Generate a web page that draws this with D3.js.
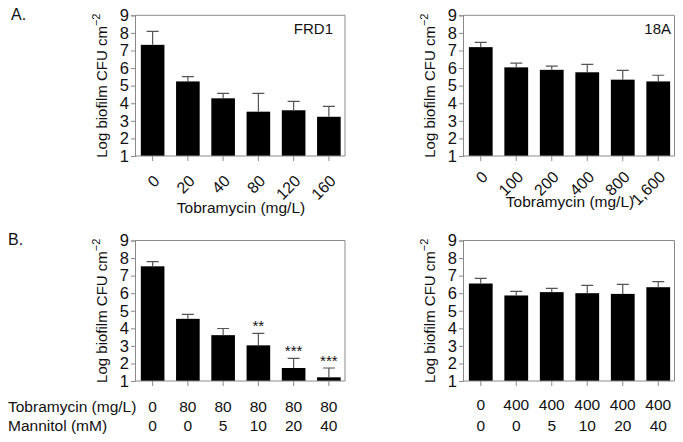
<!DOCTYPE html>
<html>
<head>
<meta charset="utf-8">
<script src="https://cdn.jsdelivr.net/npm/d3@7"></script>
<style>
  html, body { margin: 0; padding: 0; background: #fff; }
  svg { display: block; }
  text { font-family: "Liberation Sans", Arial, Helvetica, sans-serif; fill: #111; }
</style>
</head>
<body>
<svg id="chart" width="683" height="442"></svg>
<script>
// ---------- Data ----------
const yTicks = [1, 2, 3, 4, 5, 6, 7, 8, 9];

// Panel A, FRD1
const frdDoses = ["0", "20", "40", "80", "120", "160"];
const frdMeans = [7.32, 5.24, 4.28, 3.52, 3.60, 3.23];
const frdErrors = [0.77, 0.27, 0.28, 1.04, 0.51, 0.59];

// Panel A, 18A
const a18Doses = ["0", "100", "200", "400", "800", "1,600"];
const a18Means = [7.19, 6.04, 5.90, 5.76, 5.34, 5.24];
const a18Errors = [0.27, 0.24, 0.21, 0.45, 0.53, 0.35];

// Panel B, FRD1 with mannitol
const bFrdTobra = ["0", "80", "80", "80", "80", "80"];
const bFrdMannitol = ["0", "0", "5", "10", "20", "40"];
const bFrdMeans = [7.53, 4.54, 3.61, 3.03, 1.74, 1.21];
const bFrdErrors = [0.27, 0.25, 0.38, 0.68, 0.55, 0.53];
const bFrdStars = ["", "", "", "**", "***", "***"];

// Panel B, 18A with mannitol
const b18Tobra = ["0", "400", "400", "400", "400", "400"];
const b18Mannitol = ["0", "0", "5", "10", "20", "40"];
const b18Means = [6.55, 5.87, 6.06, 6.00, 5.96, 6.34];
const b18Errors = [0.29, 0.23, 0.21, 0.44, 0.54, 0.32];

// ---------- Drawing ----------
const svg = d3.select("#chart");
const gray = "#8a8a8a";
const errColor = "#555";

function panel(opts) {
  const { x0, x1, yTop, yBot, cats, means, errors } = opts;
  const g = svg.append("g");
  const keys = cats.map((d, i) => i);
  const x = d3.scaleBand().domain(keys).range([x0, x1])
    .paddingInner(0.33).paddingOuter(0.165);
  const y = d3.scaleLinear().domain([1, 9]).range([yBot, yTop]);

  // frame (top and right)
  g.append("path")
    .attr("d", `M${x0},${yTop}H${x1 - 1.5}V${yBot}`)
    .attr("fill", "none").attr("stroke", gray).attr("stroke-width", 1);

  // bars
  g.selectAll("rect.bar").data(keys).join("rect")
    .attr("class", "bar")
    .attr("x", i => x(i))
    .attr("width", x.bandwidth())
    .attr("y", i => y(means[i]))
    .attr("height", i => y(1) - y(means[i]))
    .attr("fill", "#000");

  // error bars (upper only)
  const capW = 12;
  g.selectAll("path.err").data(keys).join("path")
    .attr("class", "err")
    .attr("d", i => {
      const cx = x(i) + x.bandwidth() / 2;
      const yt = y(means[i] + errors[i]);
      return `M${cx},${y(means[i])}V${yt}M${cx - capW / 2},${yt}H${cx + capW / 2}`;
    })
    .attr("fill", "none").attr("stroke", errColor).attr("stroke-width", 1.2);

  // y axis
  const yAxis = g.append("g").attr("transform", `translate(${x0},0)`)
    .call(d3.axisLeft(y).tickValues(yTicks).tickSize(4).tickPadding(2).tickFormat(d3.format("d")));
  yAxis.select(".domain").attr("stroke", gray);
  yAxis.selectAll(".tick line").attr("stroke", gray);
  yAxis.selectAll(".tick text").attr("font-size", 16.5).attr("fill", "#111")
    .attr("font-family", "Liberation Sans, Arial, sans-serif");

  // x axis
  const xAxis = g.append("g").attr("transform", `translate(0,${yBot})`)
    .call(d3.axisBottom(x).tickSize(5).tickFormat(() => ""));
  xAxis.select(".domain").attr("d", `M${x0},0H${x1 - 1.5}`).attr("stroke", gray);
  xAxis.selectAll(".tick line").attr("stroke", gray);

  // y label
  const cy = (yTop + yBot) / 2;
  const yl = g.append("text")
    .attr("transform", `translate(${x0 - 28},${cy}) rotate(-90)`)
    .attr("text-anchor", "middle")
    .attr("font-size", 15);
  yl.append("tspan").text("Log biofilm CFU cm");
  yl.append("tspan").attr("dy", -7).attr("font-size", 11).text("\u22122");

  return { g, x, y };
}

// Panel A left
const pAL = panel({ x0: 135, x1: 346.5, yTop: 15.3, yBot: 156, cats: frdDoses, means: frdMeans, errors: frdErrors });
// Panel A right
const pAR = panel({ x0: 463, x1: 676, yTop: 15.3, yBot: 156, cats: a18Doses, means: a18Means, errors: a18Errors });
// Panel B left
const pBL = panel({ x0: 135, x1: 346.5, yTop: 240.5, yBot: 381, cats: bFrdTobra, means: bFrdMeans, errors: bFrdErrors });
// Panel B right
const pBR = panel({ x0: 463, x1: 676, yTop: 240.5, yBot: 381, cats: b18Tobra, means: b18Means, errors: b18Errors });

// rotated dose labels for panel A
function rotLabels(p, labels, yAnchor) {
  p.g.selectAll("text.dose").data(labels).join("text")
    .attr("class", "dose")
    .attr("transform", (d, i) => `translate(${p.x(i) + p.x.bandwidth() / 2 + 4},${yAnchor}) rotate(-45)`)
    .attr("text-anchor", "end")
    .attr("dy", "0.35em")
    .attr("font-size", 16)
    .text(d => d);
}
rotLabels(pAL, frdDoses, 178);
rotLabels(pAR, a18Doses, 174);

// x titles for panel A
pAL.g.append("text").attr("x", 241).attr("y", 213).attr("text-anchor", "middle")
  .attr("font-size", 15.5).text("Tobramycin (mg/L)");
pAR.g.append("text").attr("x", 570).attr("y", 207).attr("text-anchor", "middle")
  .attr("font-size", 15.5).text("Tobramycin (mg/L)");

// strain labels
pAL.g.append("text").attr("x", 333).attr("y", 34).attr("text-anchor", "end")
  .attr("font-size", 15).text("FRD1");
pAR.g.append("text").attr("x", 671).attr("y", 34).attr("text-anchor", "end")
  .attr("font-size", 15).text("18A");

// panel letters
svg.append("text").attr("x", 11).attr("y", 20).attr("font-size", 16).text("A.");
svg.append("text").attr("x", 8).attr("y", 245).attr("font-size", 16).text("B.");

// panel B row labels
function rowLabels(p, tobra, mannitol, y1) {
  p.g.selectAll("text.tob").data(tobra).join("text")
    .attr("class", "tob")
    .attr("x", (d, i) => p.x(i) + p.x.bandwidth() / 2)
    .attr("y", y1).attr("text-anchor", "middle").attr("font-size", 15.5)
    .text(d => d);
  p.g.selectAll("text.man").data(mannitol).join("text")
    .attr("class", "man")
    .attr("x", (d, i) => p.x(i) + p.x.bandwidth() / 2)
    .attr("y", 431).attr("text-anchor", "middle").attr("font-size", 15.5)
    .text(d => d);
}
rowLabels(pBL, bFrdTobra, bFrdMannitol, 411.5);
rowLabels(pBR, b18Tobra, b18Mannitol, 410);

svg.append("text").attr("x", 8).attr("y", 411.5).attr("font-size", 15.5).text("Tobramycin (mg/L)");
svg.append("text").attr("x", 8).attr("y", 431).attr("font-size", 15.5).text("Mannitol (mM)");

// significance stars
pBL.g.selectAll("text.star").data(bFrdStars).join("text")
  .attr("class", "star")
  .attr("x", (d, i) => pBL.x(i) + pBL.x.bandwidth() / 2)
  .attr("y", (d, i) => pBL.y(bFrdMeans[i] + bFrdErrors[i]) - 2)
  .attr("text-anchor", "middle").attr("font-size", 15)
  .text(d => d);
</script>
</body>
</html>
